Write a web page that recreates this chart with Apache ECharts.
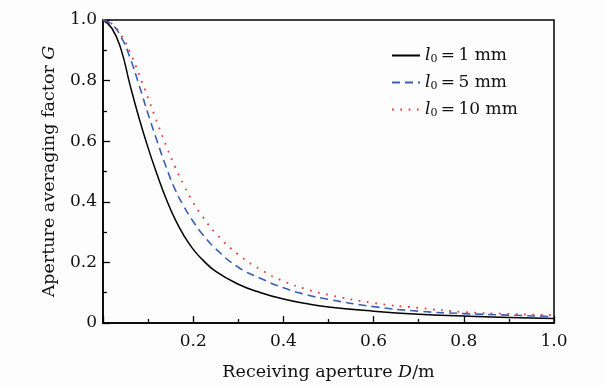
<!DOCTYPE html>
<html><head><meta charset="utf-8">
<script src="https://cdn.jsdelivr.net/npm/echarts@6/dist/echarts.min.js"></script>
<style>html,body{margin:0;padding:0;background:#fdfdfd}#c{width:605px;height:386px}</style>
</head><body><div id="c"></div>
<script>
const D = [0, 0.02, 0.04, 0.06, 0.08, 0.1, 0.12, 0.14, 0.16, 0.18, 0.2, 0.22, 0.25, 0.3, 0.35, 0.4, 0.45, 0.5, 0.6, 0.7, 0.8, 0.9, 1.0];
const G_l1 = [1.0, 0.972, 0.903, 0.785, 0.676, 0.578, 0.49, 0.41, 0.342, 0.287, 0.243, 0.21, 0.17, 0.128, 0.1, 0.079, 0.064, 0.053, 0.039, 0.029, 0.023, 0.018, 0.015];
const G_l5 = [1.0, 0.985, 0.945, 0.875, 0.785, 0.69, 0.6, 0.515, 0.44, 0.383, 0.335, 0.294, 0.245, 0.184, 0.147, 0.116, 0.094, 0.078, 0.054, 0.039, 0.031, 0.026, 0.021];
const G_l10 = [1.0, 0.987, 0.95, 0.893, 0.82, 0.742, 0.662, 0.585, 0.515, 0.453, 0.398, 0.353, 0.296, 0.226, 0.176, 0.138, 0.112, 0.093, 0.066, 0.05, 0.036, 0.03, 0.026];
const seriesNames = ['l0_1', 'l0_5', 'l0_10'];
const legendLabels = {l0_1: '1 mm', l0_5: '5 mm', l0_10: '10 mm'};

const serif = 'DejaVu Serif';
const txt = '#111';
const pairs = arr => D.map((d, i) => [d, arr[i]]);
const chart = echarts.init(document.getElementById('c'));
chart.setOption({
  backgroundColor: '#fdfdfd',
  animation: false,
  grid: {left: 103, top: 20, right: 51, bottom: 54, show: true, borderColor: '#000', borderWidth: 1.5, backgroundColor: 'transparent'},
  legend: {
    orient: 'vertical', left: 386, top: 42, itemWidth: 28, itemHeight: 14, itemGap: 9,
    data: seriesNames,
    itemStyle: {color: 'transparent', borderColor: 'transparent', borderWidth: 0},
    textStyle: {fontFamily: serif, fontSize: 17, color: txt,
      rich: {i: {fontFamily: serif, fontStyle: 'italic', fontSize: 17, color: txt},
             s: {fontFamily: serif, fontSize: 11, color: txt, padding: [8, 0, 0, 0]},
             t: {fontFamily: serif, fontSize: 17, color: txt}}},
    formatter: n => '{i|l}{s|0}{t|\u2009=\u2009' + legendLabels[n] + '}'
  },
  xAxis: {
    type: 'value', min: 0, max: 1, interval: 0.2,
    name: '{t|Receiving aperture }{i|D}{t|/m}', nameLocation: 'middle', nameGap: 40,
    nameTextStyle: {rich: {t: {fontFamily: serif, fontSize: 17.5, color: txt}, i: {fontFamily: serif, fontStyle: 'italic', fontSize: 17.5, color: txt}}},
    axisLine: {lineStyle: {color: '#000', width: 1.5}},
    axisTick: {inside: true, length: 7, lineStyle: {color: '#000', width: 1.3}},
    minorTick: {show: true, splitNumber: 2, length: 4, lineStyle: {color: '#000', width: 1.3}},
    splitLine: {show: false},
    axisLabel: {fontFamily: serif, fontSize: 17, color: txt, margin: 10,
      formatter: v => v === 0 ? '' : v.toFixed(1)}
  },
  yAxis: {
    type: 'value', min: 0, max: 1, interval: 0.2,
    name: '{t|Aperture averaging factor }{i|G}', nameLocation: 'middle', nameGap: 45, nameRotate: 90,
    nameTextStyle: {rich: {t: {fontFamily: serif, fontSize: 17.5, color: txt}, i: {fontFamily: serif, fontStyle: 'italic', fontSize: 17.5, color: txt}}},
    axisLine: {show: true, lineStyle: {color: '#000', width: 1.5}},
    axisTick: {show: true, inside: true, length: 7, lineStyle: {color: '#000', width: 1.3}},
    minorTick: {show: true, splitNumber: 2, length: 4, lineStyle: {color: '#000', width: 1.3}},
    splitLine: {show: false},
    axisLabel: {fontFamily: serif, fontSize: 17, color: txt, margin: 6,
      formatter: v => v === 0 ? '0' : v.toFixed(1)}
  },
  series: [
    {name: 'l0_1', type: 'line', data: pairs(G_l1), smooth: 0.5, symbol: 'none', color: '#000',
      lineStyle: {color: '#000', width: 1.5, type: 'solid'}},
    {name: 'l0_5', type: 'line', data: pairs(G_l5), smooth: 0.5, symbol: 'none', color: '#3b5fb5',
      lineStyle: {color: '#3b5fb5', width: 1.6, type: [8, 5]}},
    {name: 'l0_10', type: 'line', data: pairs(G_l10), smooth: 0.5, symbol: 'none', color: '#f03a3a',
      lineStyle: {color: '#f03a3a', width: 1.8, type: [1.8, 6.5]}}
  ]
});
</script></body></html>
